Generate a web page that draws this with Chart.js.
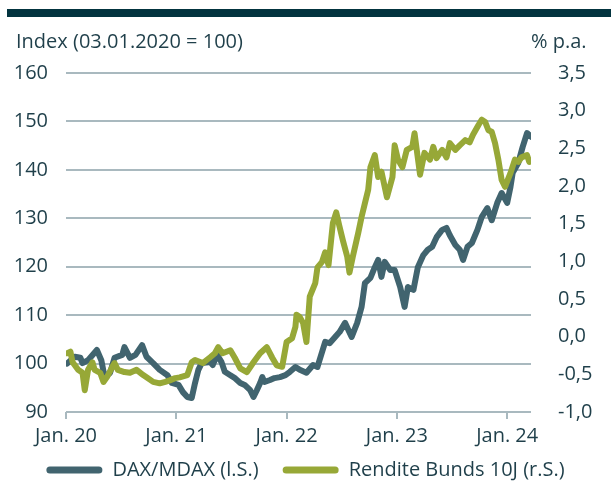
<!DOCTYPE html>
<html><head><meta charset="utf-8">
<script src="https://cdn.jsdelivr.net/npm/chart.js@4.4.1/dist/chart.umd.min.js"></script>
<style>html,body{margin:0;padding:0;background:#fff;}#wrap{width:611px;height:483px;}</style>
</head><body><div id="wrap"><canvas id="c" width="611" height="483"></canvas></div>
<script>
// ---- data ----
const xTickYears = [2020, 2021, 2022, 2023, 2024];
const xTickLabels = ["Jan. 20", "Jan. 21", "Jan. 22", "Jan. 23", "Jan. 24"];
const leftTitle = "Index (03.01.2020 = 100)";
const rightTitle = "% p.a.";
const seriesLabels = ["DAX/MDAX (l.S.)", "Rendite Bunds 10J (r.S.)"];

const daxTime = [2020.01,2020.08,2020.13,2020.15,2020.20,2020.28,2020.32,2020.35,2020.40,2020.44,
  2020.51,2020.53,2020.58,2020.63,2020.69,2020.73,2020.79,2020.85,2020.92,2020.96,
  2021.02,2021.06,2021.10,2021.14,2021.17,2021.20,2021.23,2021.31,2021.33,2021.37,
  2021.41,2021.44,2021.49,2021.53,2021.58,2021.62,2021.67,2021.70,2021.73,2021.76,
  2021.78,2021.80,2021.85,2021.89,2021.94,2021.99,2022.03,2022.08,2022.12,2022.18,
  2022.24,2022.28,2022.35,2022.39,2022.44,2022.48,2022.53,2022.59,2022.64,2022.68,
  2022.71,2022.76,2022.80,2022.83,2022.86,2022.89,2022.94,2022.98,2023.03,2023.07,
  2023.10,2023.15,2023.19,2023.24,2023.28,2023.32,2023.36,2023.41,2023.45,2023.48,
  2023.53,2023.57,2023.60,2023.64,2023.68,2023.73,2023.77,2023.82,2023.86,2023.91,
  2023.95,2024.00,2024.03,2024.05,2024.10,2024.14,2024.18,2024.22];
const daxValues = [100.0,101.4,101.2,100.1,100.7,102.8,100.7,97.2,98.1,101.2,
  101.8,103.4,101.2,101.8,103.8,101.4,100.1,98.7,97.6,96.0,
  95.6,94.1,93.1,92.9,96.0,98.7,100.1,100.3,99.7,101.8,
  100.3,98.3,97.6,97.0,96.0,95.6,94.5,93.1,94.5,96.0,
  97.2,96.2,96.6,97.0,97.2,97.6,98.3,99.3,98.7,98.1,
  99.7,99.3,104.5,104.2,105.5,106.5,108.4,105.5,108.4,111.7,
  116.6,117.7,119.9,121.4,117.9,121.0,119.3,119.3,115.8,111.7,
  115.8,115.2,119.9,122.4,123.5,124.1,126.1,127.6,128.0,126.5,
  124.5,123.5,121.4,124.1,124.9,127.6,130.3,132.1,129.6,133.2,
  135.2,133.2,136.5,139.4,141.4,144.7,147.6,146.8];

const bundTime = [2020.01,2020.04,2020.06,2020.11,2020.15,2020.17,2020.20,2020.24,2020.26,2020.31,
  2020.34,2020.37,2020.42,2020.44,2020.47,2020.53,2020.58,2020.64,2020.70,2020.74,
  2020.79,2020.85,2020.90,2020.94,2020.99,2021.03,2021.10,2021.14,2021.17,2021.24,
  2021.31,2021.35,2021.38,2021.42,2021.49,2021.53,2021.58,2021.64,2021.70,2021.76,
  2021.82,2021.87,2021.91,2021.96,2022.00,2022.05,2022.08,2022.09,2022.12,2022.15,
  2022.18,2022.21,2022.26,2022.28,2022.32,2022.35,2022.38,2022.42,2022.45,2022.48,
  2022.51,2022.55,2022.57,2022.60,2022.65,2022.68,2022.71,2022.74,2022.76,2022.80,
  2022.83,2022.86,2022.91,2022.96,2022.98,2023.01,2023.05,2023.09,2023.14,2023.16,
  2023.21,2023.25,2023.30,2023.33,2023.36,2023.41,2023.45,2023.48,2023.53,2023.57,
  2023.62,2023.66,2023.69,2023.74,2023.77,2023.80,2023.83,2023.86,2023.89,2023.92,
  2023.95,2023.98,2024.03,2024.07,2024.10,2024.13,2024.18,2024.20];
const bundValues = [-0.22,-0.20,-0.34,-0.44,-0.48,-0.71,-0.44,-0.34,-0.44,-0.48,
  -0.60,-0.54,-0.40,-0.35,-0.44,-0.47,-0.48,-0.44,-0.51,-0.55,
  -0.60,-0.62,-0.60,-0.58,-0.55,-0.54,-0.51,-0.34,-0.31,-0.35,
  -0.27,-0.22,-0.14,-0.22,-0.18,-0.28,-0.42,-0.47,-0.34,-0.22,
  -0.14,-0.28,-0.38,-0.40,-0.07,-0.02,0.13,0.29,0.26,0.18,
  -0.07,0.53,0.71,0.92,0.99,1.12,0.95,1.51,1.65,1.46,
  1.28,1.06,0.85,1.06,1.38,1.59,1.77,1.95,2.25,2.41,
  2.12,2.19,1.85,2.12,2.54,2.35,2.25,2.48,2.52,2.70,
  2.15,2.44,2.35,2.52,2.37,2.48,2.38,2.57,2.48,2.54,
  2.61,2.58,2.68,2.81,2.88,2.85,2.74,2.72,2.57,2.35,
  2.08,1.99,2.17,2.35,2.32,2.38,2.41,2.32];

// ---- styles ----
const DARK = '#41646f';
const GREEN = '#97a837';
const GRID = '#a9b9bf';
const TEXT = '#1f3f4a';
const BAR = '#03343f';
const FONT = '"Open Sans", "Noto Sans", sans-serif';
const FS = 20;
const LEGEND_PAD = 24;
const LEGEND_CENTER_Y = 470;

Chart.defaults.font.family = FONT;
Chart.defaults.font.size = FS;
Chart.defaults.color = TEXT;

const decor = {
  id: 'decor',
  afterLayout(chart) {
    const lg = chart.legend;
    if (!lg) return;
    const targetTop = LEGEND_CENTER_Y - LEGEND_PAD - FS / 2;
    const dy = targetTop - lg.top;
    lg.top += dy; lg.bottom += dy;
  },
  beforeDraw(chart) {
    const c = chart.ctx;
    c.save();
    c.fillStyle = BAR;
    c.fillRect(7, 9, 604, 8);
    c.restore();
  },
  afterDraw(chart) {
    const c = chart.ctx;
    c.save();
    c.fillStyle = TEXT;
    c.font = FS + 'px ' + FONT;
    c.textBaseline = 'alphabetic';
    c.textAlign = 'left';
    c.fillText(leftTitle, 16, 48);
    c.fillText(rightTitle, 531, 48);
    c.restore();
  }
};

new Chart(document.getElementById('c'), {
  type: 'line',
  data: {
    datasets: [
      {
        label: seriesLabels[0],
        data: daxTime.map((t, i) => ({x: t, y: daxValues[i]})),
        yAxisID: 'yL',
        borderColor: DARK, backgroundColor: DARK,
        borderWidth: 6, pointRadius: 0, tension: 0,
        borderJoinStyle: 'round', borderCapStyle: 'round',
        order: 1
      },
      {
        label: seriesLabels[1],
        data: bundTime.map((t, i) => ({x: t, y: bundValues[i]})),
        yAxisID: 'yR',
        borderColor: GREEN, backgroundColor: GREEN,
        borderWidth: 6, pointRadius: 0, tension: 0,
        borderJoinStyle: 'round', borderCapStyle: 'round',
        order: 0
      }
    ]
  },
  options: {
    responsive: false,
    animation: false,
    devicePixelRatio: 1,
    layout: { padding: { top: 73, left: 0, right: 0, bottom: 483 - 412 - 40 - (FS + LEGEND_PAD + 10) } },
    plugins: {
      tooltip: { enabled: false },
      legend: {
        position: 'bottom',
        labels: {
          boxWidth: 56, boxHeight: 7, useBorderRadius: true, borderRadius: 3.5,
          padding: LEGEND_PAD, color: TEXT, font: { size: FS, family: FONT },
          generateLabels(chart) {
            return chart.data.datasets.map((d, i) => ({
              text: d.label, fillStyle: d.borderColor, strokeStyle: d.borderColor,
              lineWidth: 0, hidden: false, datasetIndex: i, borderRadius: 3.5, fontColor: TEXT
            }));
          }
        }
      }
    },
    scales: {
      x: {
        type: 'linear', min: 2020, max: 2024.216,
        afterBuildTicks(s) { s.ticks = xTickYears.map(v => ({ value: v })); },
        afterFit(s) { s.height = 40; },
        ticks: {
          autoSkip: false, maxRotation: 0, padding: 5, color: TEXT,
          callback(v) { const i = xTickYears.indexOf(v); return i >= 0 ? xTickLabels[i] : ''; }
        },
        grid: { drawOnChartArea: false, color: GRID, lineWidth: 2, tickLength: 7 },
        border: { display: false }
      },
      yL: {
        position: 'left', min: 90, max: 160,
        afterFit(s) { s.width = 66; },
        ticks: { stepSize: 10, padding: 18, color: TEXT },
        grid: { color: GRID, lineWidth: 2, drawTicks: false },
        border: { display: false }
      },
      yR: {
        position: 'right', min: -1, max: 3.5,
        afterFit(s) { s.width = 80; },
        ticks: { stepSize: 0.5, padding: 19, color: TEXT,
          callback(v) { return v.toFixed(1).replace('.', ','); } },
        grid: { display: false },
        border: { display: false }
      }
    }
  },
  plugins: [decor]
});
</script>
</body></html>
